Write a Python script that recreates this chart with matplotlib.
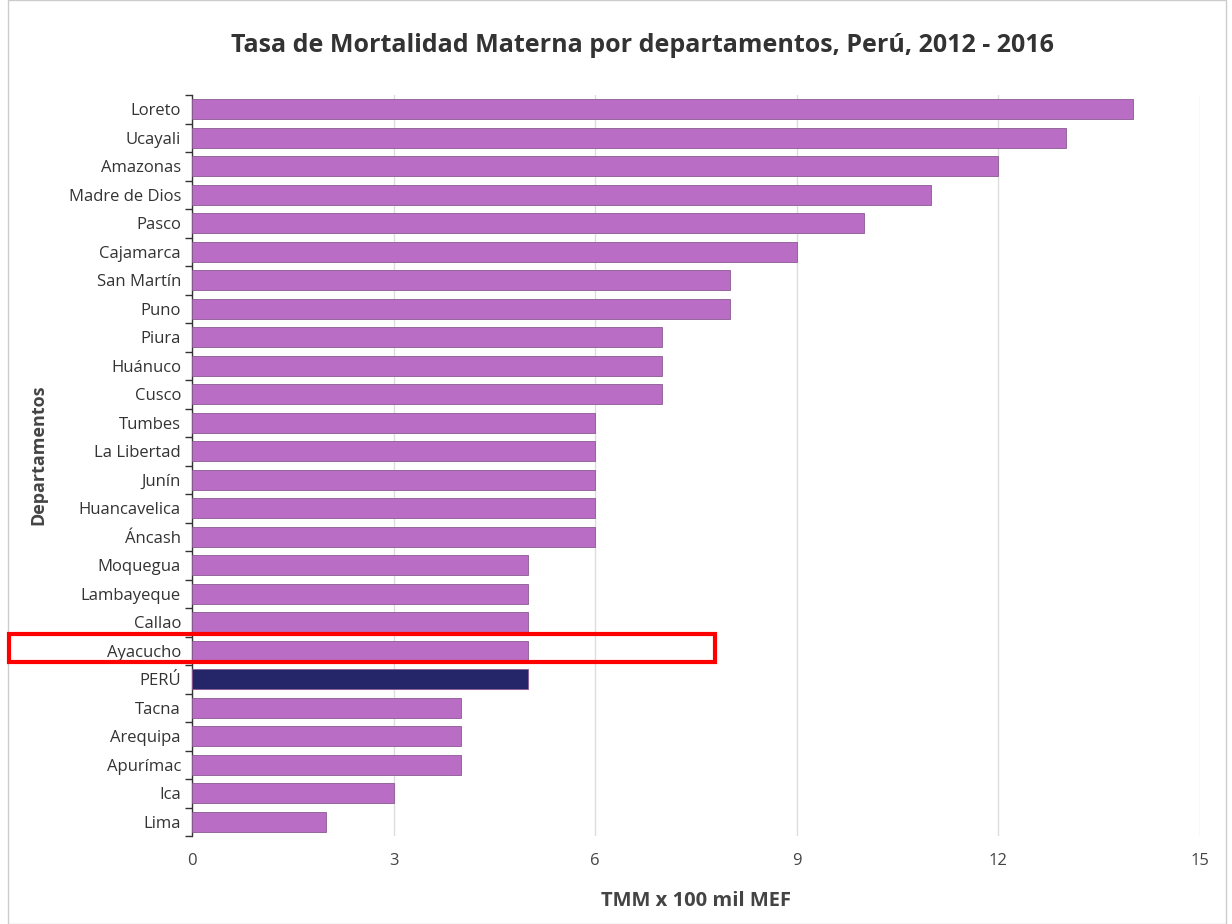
import matplotlib
matplotlib.use("Agg")
import matplotlib.pyplot as plt
from matplotlib.patches import Rectangle
import numpy as np

departamentos = ["Loreto", "Ucayali", "Amazonas", "Madre de Dios", "Pasco", "Cajamarca",
                 "San Martín", "Puno", "Piura", "Huánuco", "Cusco", "Tumbes", "La Libertad",
                 "Junín", "Huancavelica", "Áncash", "Moquegua", "Lambayeque", "Callao",
                 "Ayacucho", "PERÚ", "Tacna", "Arequipa", "Apurímac", "Ica", "Lima"]
tmm = [14, 13, 12, 11, 10, 9, 8, 8, 7, 7, 7, 6, 6, 6, 6, 6, 5, 5, 5, 5, 5, 4, 4, 4, 3, 2]
x_ticks = [0, 3, 6, 9, 12, 15]

purple = "#B96DC4"
navy = "#25256A"
colors = [navy if d == "PERÚ" else purple for d in departamentos]

plt.rcParams['font.family'] = ['Open Sans', 'DejaVu Sans']

fig = plt.figure(figsize=(12.32, 9.24), dpi=100)
ax = fig.add_axes([192/1232, 1-836/924, 1008/1232, (836-95)/924])

y = np.arange(len(departamentos))
ax.barh(y, tmm, height=0.7, color=colors, edgecolor="#8a5a92", linewidth=0.6, zorder=3)
ax.set_ylim(len(departamentos) - 0.5, -0.5)
ax.set_xlim(0, 15)
ax.set_xticks(x_ticks)
ax.set_xticklabels([str(v) for v in x_ticks], fontsize=12, color="#444444")
ax.set_yticks(y)
ax.set_yticklabels(departamentos, fontsize=12, color="#333333")
ax.set_yticks(np.arange(-0.5, len(departamentos), 1), minor=True)
ax.tick_params(axis="y", which="major", length=0, pad=8)
ax.tick_params(axis="y", which="minor", length=5, color="#333333", width=1)
ax.tick_params(axis="x", length=0, pad=12)
ax.grid(axis="x", color="#dddddd", linewidth=1, zorder=0)
for s in ["top", "right", "bottom"]:
    ax.spines[s].set_visible(False)
ax.spines["left"].set_color("#333333")
ax.spines["left"].set_linewidth(1)

fig.text(0.5 + 26/1232, 1-45/924, "Tasa de Mortalidad Materna por departamentos, Perú, 2012 - 2016",
         ha="center", va="center", fontsize=18, fontweight="bold", color="#333333")
fig.text(38/1232, 1-455/924, "Departamentos", rotation=90, ha="center", va="center",
         fontsize=13, fontweight="bold", color="#444444")
fig.text(696/1232, 1-901/924, "TMM x 100 mil MEF", ha="center", va="center",
         fontsize=14.5, fontweight="bold", color="#444444")

# outer frame
fig.patches.append(Rectangle((8/1232, 0), (1226-8)/1232, 1, transform=fig.transFigure,
                             fill=False, edgecolor="#cccccc", linewidth=1))
# highlight box around Ayacucho
fig.patches.append(Rectangle((9/1232, 1-662/924), (715-9)/1232, 28/924, transform=fig.transFigure,
                             fill=False, edgecolor="#ff0000", linewidth=3, zorder=10))

fig.savefig("out.png", dpi=100, facecolor="white")
